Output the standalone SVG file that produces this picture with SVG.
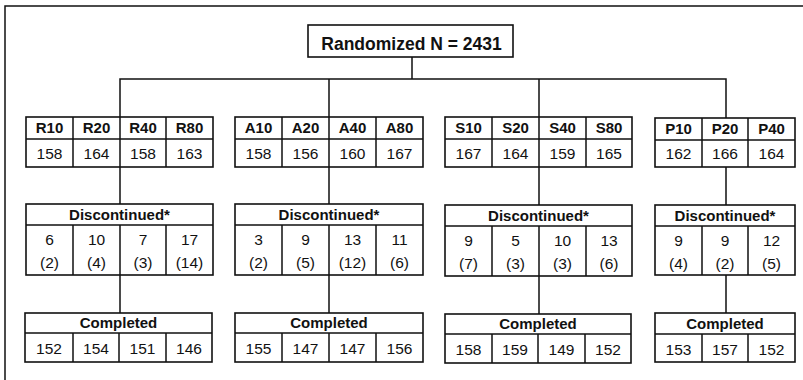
<svg xmlns="http://www.w3.org/2000/svg" width="803" height="380" viewBox="0 0 803 380">
<style>
.ln{stroke:#111;stroke-width:1.5;fill:none}
.bx{stroke:#111;stroke-width:1.6;fill:#fff}
.h{font-family:"Liberation Sans",Arial,sans-serif;font-weight:bold;font-size:15px;fill:#111;text-anchor:middle}
.n{font-family:"Liberation Sans",Arial,sans-serif;font-size:15.5px;fill:#111;text-anchor:middle}
.t{font-family:"Liberation Sans",Arial,sans-serif;font-weight:bold;font-size:17.5px;fill:#111;text-anchor:middle}
</style>
<rect width="803" height="380" fill="#fff"/>
<g id="frame"><path class="ln" d="M5,380 V6 H803"/></g>
<g id="connectors">
<path class="ln" d="M412,57 V79 M120,117 V79 H726 V118 M329,79 V117 M539,79 V117"/>
<path class="ln" d="M120,167 V204 M329,167 V204 M539,167 V205 M726,167 V205"/>
<path class="ln" d="M120,275 V313 M329,275 V313 M539,276 V314 M726,275 V313"/>
</g>
<g id="randomized">
<rect class="bx" x="308" y="25" width="205" height="32"/>
<text class="t" x="411.5" y="50">Randomized N = 2431</text>
</g>
<g id="r-arms">
<rect class="bx" x="26" y="117" width="187" height="50"/>
<path class="ln" d="M26,139 H213 M73,117 V167 M120,117 V167 M166,117 V167"/>
<text class="h" x="49.5" y="133">R10</text><text class="h" x="96.5" y="133">R20</text><text class="h" x="143" y="133">R40</text><text class="h" x="189.5" y="133">R80</text>
<text class="n" x="49.5" y="159">158</text><text class="n" x="96.5" y="159">164</text><text class="n" x="143" y="159">158</text><text class="n" x="189.5" y="159">163</text>
</g>
<g id="r-disc">
<rect class="bx" x="26" y="204" width="187" height="71"/>
<path class="ln" d="M26,225 H213 M73,225 V275 M120,225 V275 M166,225 V275"/>
<text class="h" x="119.5" y="220">Discontinued*</text>
<text class="n" x="49.5" y="245">6</text><text class="n" x="96.5" y="245">10</text><text class="n" x="143" y="245">7</text><text class="n" x="189.5" y="245">17</text>
<text class="n" x="49.5" y="268">(2)</text><text class="n" x="96.5" y="268">(4)</text><text class="n" x="143" y="268">(3)</text><text class="n" x="189.5" y="268">(14)</text>
</g>
<g id="r-comp">
<rect class="bx" x="25" y="313" width="187" height="49"/>
<path class="ln" d="M25,333 H212 M73,333 V362 M119,333 V362 M166,333 V362"/>
<text class="h" x="118.5" y="328">Completed</text>
<text class="n" x="49" y="354">152</text><text class="n" x="96" y="354">154</text><text class="n" x="142.5" y="354">151</text><text class="n" x="189" y="354">146</text>
</g>
<g id="a-arms">
<rect class="bx" x="235" y="117" width="188" height="50"/>
<path class="ln" d="M235,139 H423 M282,117 V167 M329,117 V167 M376,117 V167"/>
<text class="h" x="258.5" y="133">A10</text><text class="h" x="305.5" y="133">A20</text><text class="h" x="352.5" y="133">A40</text><text class="h" x="399.5" y="133">A80</text>
<text class="n" x="258.5" y="159">158</text><text class="n" x="305.5" y="159">156</text><text class="n" x="352.5" y="159">160</text><text class="n" x="399.5" y="159">167</text>
</g>
<g id="a-disc">
<rect class="bx" x="235" y="204" width="188" height="71"/>
<path class="ln" d="M235,225 H423 M282,225 V275 M329,225 V275 M376,225 V275"/>
<text class="h" x="329" y="220">Discontinued*</text>
<text class="n" x="258.5" y="245">3</text><text class="n" x="305.5" y="245">9</text><text class="n" x="352.5" y="245">13</text><text class="n" x="399.5" y="245">11</text>
<text class="n" x="258.5" y="268">(2)</text><text class="n" x="305.5" y="268">(5)</text><text class="n" x="352.5" y="268">(12)</text><text class="n" x="399.5" y="268">(6)</text>
</g>
<g id="a-comp">
<rect class="bx" x="235" y="313" width="188" height="49"/>
<path class="ln" d="M235,333 H423 M282,333 V362 M329,333 V362 M376,333 V362"/>
<text class="h" x="329" y="328">Completed</text>
<text class="n" x="258.5" y="354">155</text><text class="n" x="305.5" y="354">147</text><text class="n" x="352.5" y="354">147</text><text class="n" x="399.5" y="354">156</text>
</g>
<g id="s-arms">
<rect class="bx" x="445" y="117" width="187" height="50"/>
<path class="ln" d="M445,139 H632 M492,117 V167 M539,117 V167 M586,117 V167"/>
<text class="h" x="468.5" y="133">S10</text><text class="h" x="515.5" y="133">S20</text><text class="h" x="562.5" y="133">S40</text><text class="h" x="609" y="133">S80</text>
<text class="n" x="468.5" y="159">167</text><text class="n" x="515.5" y="159">164</text><text class="n" x="562.5" y="159">159</text><text class="n" x="609" y="159">165</text>
</g>
<g id="s-disc">
<rect class="bx" x="445" y="205" width="187" height="71"/>
<path class="ln" d="M445,226 H632 M492,226 V276 M539,226 V276 M586,226 V276"/>
<text class="h" x="538.5" y="221">Discontinued*</text>
<text class="n" x="468.5" y="246">9</text><text class="n" x="515.5" y="246">5</text><text class="n" x="562.5" y="246">10</text><text class="n" x="609" y="246">13</text>
<text class="n" x="468.5" y="269">(7)</text><text class="n" x="515.5" y="269">(3)</text><text class="n" x="562.5" y="269">(3)</text><text class="n" x="609" y="269">(6)</text>
</g>
<g id="s-comp">
<rect class="bx" x="445" y="314" width="186" height="49"/>
<path class="ln" d="M445,334 H631 M492,334 V363 M538,334 V363 M585,334 V363"/>
<text class="h" x="538" y="329">Completed</text>
<text class="n" x="468.5" y="355">158</text><text class="n" x="515" y="355">159</text><text class="n" x="561.5" y="355">149</text><text class="n" x="608" y="355">152</text>
</g>
<g id="p-arms">
<rect class="bx" x="655" y="118" width="140" height="49"/>
<path class="ln" d="M655,140 H795 M702,118 V167 M748,118 V167"/>
<text class="h" x="678.5" y="134">P10</text><text class="h" x="725" y="134">P20</text><text class="h" x="771.5" y="134">P40</text>
<text class="n" x="678.5" y="159">162</text><text class="n" x="725" y="159">166</text><text class="n" x="771.5" y="159">164</text>
</g>
<g id="p-disc">
<rect class="bx" x="655" y="205" width="140" height="70"/>
<path class="ln" d="M655,226 H795 M702,226 V275 M748,226 V275"/>
<text class="h" x="725" y="221">Discontinued*</text>
<text class="n" x="678.5" y="246">9</text><text class="n" x="725" y="246">9</text><text class="n" x="771.5" y="246">12</text>
<text class="n" x="678.5" y="269">(4)</text><text class="n" x="725" y="269">(2)</text><text class="n" x="771.5" y="269">(5)</text>
</g>
<g id="p-comp">
<rect class="bx" x="655" y="313" width="140" height="49"/>
<path class="ln" d="M655,334 H795 M702,334 V362 M748,334 V362"/>
<text class="h" x="725" y="329">Completed</text>
<text class="n" x="678.5" y="355">153</text><text class="n" x="725" y="355">157</text><text class="n" x="771.5" y="355">152</text>
</g>
</svg>
